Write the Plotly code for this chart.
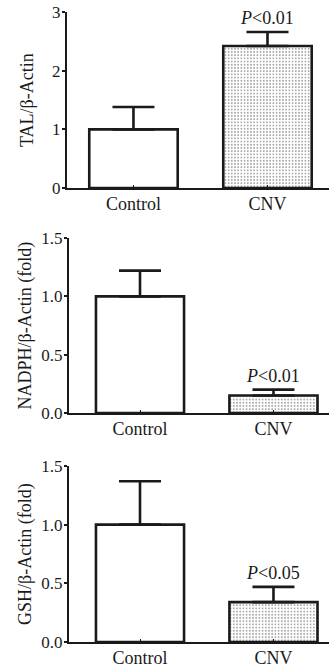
import plotly.graph_objects as go

categories = ["Control", "CNV"]
tal_values = [1.0, 2.42]
tal_err = [0.38, 0.24]
nadph_values = [1.0, 0.15]
nadph_err = [0.22, 0.05]
gsh_values = [1.0, 0.34]
gsh_err = [0.37, 0.13]
p_labels = ["<i>P</i>&lt;0.01", "<i>P</i>&lt;0.01", "<i>P</i>&lt;0.05"]
y_titles = ["TAL/β-Actin", "NADPH/β-Actin (fold)", "GSH/β-Actin (fold)"]

W, H = 329, 667
FONT = "Liberation Serif"
FS = 17
FT = 18

panels = [
    dict(vals=tal_values, err=tal_err, top=12, bot=188, left=67, yr=[0, 3], dtick=1, fmt="d",
         xr=[-0.496, 1.459], tx=27),
    dict(vals=nadph_values, err=nadph_err, top=238, bot=413, left=69, yr=[0, 1.5], dtick=0.5, fmt=".1f",
         xr=[-0.532, 1.416], tx=25),
    dict(vals=gsh_values, err=gsh_err, top=466, bot=642, left=69, yr=[0, 1.5], dtick=0.5, fmt=".1f",
         xr=[-0.532, 1.416], tx=25),
]

fig = go.Figure()
layout = dict(template="none", width=W, height=H, margin=dict(l=0, r=0, t=0, b=0, pad=0),
              paper_bgcolor="white", plot_bgcolor="white", showlegend=False,
              font=dict(family=FONT, size=FS, color="#1a1a1a"), annotations=[])

for i, p in enumerate(panels):
    n = "" if i == 0 else str(i + 1)
    xa, ya = "x" + n, "y" + n
    fig.add_trace(go.Bar(
        x=categories, y=p["vals"], xaxis=xa, yaxis=ya, width=0.66,
        marker=dict(color=["white", "white"], line=dict(color="#1a1a1a", width=2.6),
                    pattern=dict(shape=["", "."], fgcolor="#b4b4b4", fillmode="overlay",
                                 size=3.2, solidity=0.25)),
        error_y=dict(type="data", array=p["err"], arrayminus=[0, 0], symmetric=False,
                     color="#1a1a1a", thickness=2.6, width=21),
    ))
    layout["xaxis" + n] = dict(
        domain=[p["left"] / W, 1], anchor=ya, range=p["xr"], type="category", automargin=False,
        showline=True, linecolor="#1a1a1a", linewidth=2, ticks="inside", ticklen=3,
        tickcolor="#1a1a1a", tickwidth=1.2, showgrid=False, zeroline=False,
        ticklabelstandoff=-2,
        tickfont=dict(family=FONT, size=FT, color="#1a1a1a"))
    layout["yaxis" + n] = dict(
        domain=[1 - p["bot"] / H, 1 - p["top"] / H], anchor=xa, range=p["yr"], automargin=False,
        dtick=p["dtick"], tick0=0, tickformat=p["fmt"], showline=True, linecolor="#1a1a1a",
        linewidth=2, ticks="outside", ticklen=3, tickcolor="#1a1a1a", tickwidth=1.5,
        showgrid=False, zeroline=False, ticklabelstandoff=-2,
        tickfont=dict(family=FONT, size=FS, color="#1a1a1a"))
    layout["annotations"].append(dict(
        text=y_titles[i], xref="paper", x=p["tx"] / W, xanchor="center",
        yref=ya + " domain", y=0.5, yanchor="middle", textangle=-90, showarrow=False,
        font=dict(family=FONT, size=FT, color="#1a1a1a")))
    layout["annotations"].append(dict(
        text=p_labels[i], xref=xa, x=categories[1], yref=ya, y=p["vals"][1] + p["err"][1],
        yanchor="bottom", yshift=2, showarrow=False,
        font=dict(family=FONT, size=FT, color="#1a1a1a")))

fig.update_layout(**layout)
fig.write_html("out.html", config={"displayModeBar": False},
               post_script="document.body.style.margin='0';")
